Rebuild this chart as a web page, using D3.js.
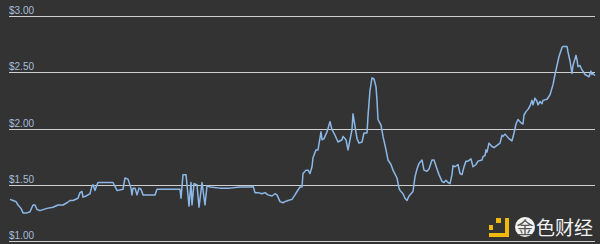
<!DOCTYPE html>
<html>
<head>
<meta charset="utf-8">
<title>Price</title>
<script src="https://cdn.jsdelivr.net/npm/d3@7"></script>
<style>
  html, body { margin: 0; padding: 0; background: #333333; }
  svg { display: block; }
</style>
</head>
<body>
<script>
// day index (from start of range) and price in dollars
let days = [0,3,6,8,11,13,17,20,23,25,27,30,37,43,48,53,57,60,63,68,70,72,73,76,78,80,82,83,85,87,88,90,
  103,107,108,113,115,118,121,122,123,125,127,129,131,133,135,138,145,147,157,170,171,173,176,177,179,181,182,184,187,189,
  192,195,197,200,210,220,230,242,243,245,248,252,255,258,262,265,267,270,273,275,278,282,285,287,290,
  292,293,296,298,300,302,303,306,308,311,312,314,317,320,322,325,328,332,333,336,338,340,342,343,345,347,349,352,354,357,358,
  360,362,364,366,367,368,371,373,376,378,381,383,387,389,
  390,393,395,397,399,403,405,407,409,412,414,417,419,422,424,427,429,432,434,436,438,440,442,443,445,448,450,452,454,456,458,461,463,466,468,472,473,475,476,477,479,482,484,487,490,
  492,493,495,497,499,502,504,506,508,511,513,514,516,518,520,522,523,525,527,528,530,532,533,537,540,543,545,547,549,552,553,557,558,560,562,563,566,567,568,570,572,573,575,577,579,581,582,583,585];
let prices = [1.37,1.36,1.35,1.32,1.29,1.25,1.25,1.26,1.32,1.32,1.28,1.27,1.29,1.30,1.32,1.32,1.34,1.36,1.36,1.38,1.43,1.44,1.39,1.40,1.41,1.42,1.49,1.50,1.45,1.50,1.52,1.52,
  1.52,1.45,1.45,1.46,1.56,1.55,1.47,1.41,1.47,1.47,1.41,1.47,1.46,1.41,1.41,1.41,1.41,1.46,1.46,1.46,1.38,1.59,1.59,1.50,1.31,1.52,1.32,1.51,1.50,1.30,
  1.52,1.32,1.49,1.48,1.47,1.47,1.48,1.48,1.49,1.43,1.43,1.42,1.43,1.41,1.40,1.42,1.41,1.35,1.34,1.35,1.36,1.37,1.41,1.44,1.48,
  1.48,1.60,1.63,1.63,1.60,1.66,1.74,1.81,1.81,1.97,1.90,1.91,1.97,2.06,1.99,1.94,1.88,1.90,1.93,1.90,1.81,1.90,1.99,2.13,2.02,1.91,1.87,
  1.88,1.96,1.96,2.11,2.34,2.45,2.44,2.37,2.25,2.08,2.03,1.93,1.81,1.72,1.68,1.63,1.56,1.47,
  1.45,1.42,1.38,1.36,1.40,1.44,1.57,1.64,1.69,1.72,1.63,1.62,1.64,1.72,1.72,1.64,1.59,1.53,1.52,1.54,1.52,1.51,1.59,1.67,1.66,1.68,1.60,1.59,1.66,1.71,1.71,1.73,1.66,1.68,1.71,1.72,1.75,1.76,1.81,1.79,1.87,1.84,1.83,1.85,1.87,
  1.94,1.93,1.95,1.93,1.91,1.89,1.96,2.04,2.08,2.05,2.04,2.12,2.15,2.17,2.20,2.25,2.21,2.27,2.24,2.21,2.24,2.22,2.25,2.26,2.30,2.39,2.48,2.56,2.64,2.72,2.73,2.73,2.68,2.60,2.49,2.56,2.65,2.61,2.55,2.56,2.52,2.51,2.48,2.47,2.46,2.51,2.48,2.49,2.47];
let ticks = [1, 1.5, 2, 2.5, 3];

let width = 600,
    height = 244,
    left = 9,
    right = 595

let svg = d3.select('body').append('svg')
    .attr('width', width)
    .attr('height', height)

svg.append('rect')
    .attr('width', width)
    .attr('height', height)
    .attr('fill', '#333333')

let x = d3.scaleLinear()
    .domain([0, 585])
    .range([10, right])

let y = d3.scaleLinear()
    .domain([1, 3])
    .range([241, 16])

// grid lines with labels sitting on top
let grid = svg.append('g')
grid.selectAll('line')
    .data(ticks)
    .enter().append('line')
    .attr('x1', left)
    .attr('x2', right)
    .attr('y1', d => Math.round(y(d)) + 0.5)
    .attr('y2', d => Math.round(y(d)) + 0.5)
    .attr('stroke', '#cfcfcf')
    .attr('stroke-width', 1.2)

grid.selectAll('text')
    .data(ticks)
    .enter().append('text')
    .attr('x', left)
    .attr('y', d => Math.round(y(d)) - 2)
    .attr('fill', '#a6bedc')
    .style('font-family', '"Liberation Sans", Arial, sans-serif')
    .style('font-size', '10px')
    .text(d => '$' + d3.format('.2f')(d))

let line = d3.line()
    .x((d, i) => x(days[i]))
    .y(d => y(d))

svg.append('path')
    .datum(prices)
    .attr('d', line)
    .attr('fill', 'none')
    .attr('stroke', '#8cb8e8')
    .attr('stroke-width', 1.5)
    .attr('stroke-linejoin', 'round')

// watermark
let wm = svg.append('g')
wm.append('rect').attr('x', 496).attr('y', 218).attr('width', 5).attr('height', 5).attr('fill', '#f0b90b')
wm.append('rect').attr('x', 505).attr('y', 218).attr('width', 4).attr('height', 19).attr('fill', '#f0b90b')
wm.append('rect').attr('x', 489).attr('y', 233).attr('width', 20).attr('height', 4).attr('fill', '#f0b90b')
wm.append('rect').attr('x', 489).attr('y', 225).attr('width', 4).attr('height', 5).attr('fill', '#f0b90b')
wm.append('circle').attr('cx', 525).attr('cy', 227).attr('r', 10).attr('fill', '#f2f2f2')
wm.append('text')
    .attr('x', 525).attr('y', 234)
    .attr('text-anchor', 'middle')
    .attr('fill', '#555')
    .style('font-family', '"Noto Sans CJK SC", sans-serif')
    .style('font-size', '17px')
    .text('金')
wm.append('text')
    .attr('x', 536).attr('y', 235)
    .attr('fill', '#f2f2f2')
    .style('font-family', '"Noto Sans CJK SC", sans-serif')
    .style('font-size', '19px')
    .text('色财经')
</script>
</body>
</html>
